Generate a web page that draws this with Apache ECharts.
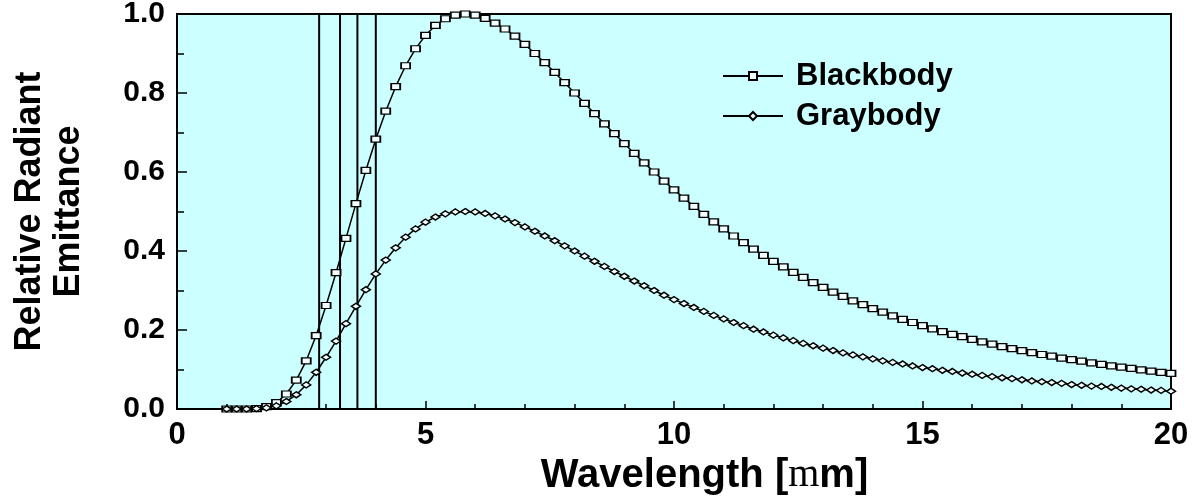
<!DOCTYPE html>
<html>
<head>
<meta charset="utf-8">
<script src="https://cdn.jsdelivr.net/npm/echarts@6/dist/echarts.min.js"></script>
<style>
  html, body { margin: 0; padding: 0; background: #ffffff; }
  #chart { width: 1193px; height: 498px; }
</style>
</head>
<body>
<div id="chart"></div>
<script>
// Wavelength samples (micrometres)
const wavelength = [
  1.0, 1.2, 1.4, 1.6, 1.8, 2.0, 2.2, 2.4, 2.6, 2.8,
  3.0, 3.2, 3.4, 3.6, 3.8, 4.0, 4.2, 4.4, 4.6, 4.8,
  5.0, 5.2, 5.4, 5.6, 5.8, 6.0, 6.2, 6.4, 6.6, 6.8,
  7.0, 7.2, 7.4, 7.6, 7.8, 8.0, 8.2, 8.4, 8.6, 8.8,
  9.0, 9.2, 9.4, 9.6, 9.8, 10.0, 10.2, 10.4, 10.6, 10.8,
  11.0, 11.2, 11.4, 11.6, 11.8, 12.0, 12.2, 12.4, 12.6, 12.8,
  13.0, 13.2, 13.4, 13.6, 13.8, 14.0, 14.2, 14.4, 14.6, 14.8,
  15.0, 15.2, 15.4, 15.6, 15.8, 16.0, 16.2, 16.4, 16.6, 16.8,
  17.0, 17.2, 17.4, 17.6, 17.8, 18.0, 18.2, 18.4, 18.6, 18.8,
  19.0, 19.2, 19.4, 19.6, 19.8, 20.0
];

// Relative radiant emittance of the blackbody
const blackbody = [
  0, 0, 0, 0.001, 0.006, 0.016, 0.038, 0.073, 0.122, 0.186,
  0.262, 0.345, 0.432, 0.52, 0.604, 0.683, 0.754, 0.816, 0.869, 0.912,
  0.946, 0.971, 0.988, 0.997, 1.0, 0.997, 0.989, 0.977, 0.962, 0.944,
  0.923, 0.9, 0.877, 0.852, 0.826, 0.8, 0.774, 0.748, 0.722, 0.697,
  0.672, 0.647, 0.623, 0.6, 0.577, 0.555, 0.534, 0.513, 0.493, 0.474,
  0.456, 0.438, 0.421, 0.405, 0.389, 0.374, 0.36, 0.346, 0.333, 0.32,
  0.308, 0.296, 0.285, 0.274, 0.264, 0.254, 0.245, 0.236, 0.227, 0.219,
  0.211, 0.203, 0.196, 0.189, 0.183, 0.176, 0.17, 0.164, 0.158, 0.153,
  0.148, 0.143, 0.138, 0.134, 0.129, 0.125, 0.121, 0.117, 0.113, 0.109,
  0.106, 0.103, 0.099, 0.096, 0.093, 0.09
];

// Relative radiant emittance of the graybody
const graybody = [
  0, 0, 0, 0.001, 0.003, 0.008, 0.019, 0.036, 0.061, 0.093,
  0.131, 0.172, 0.216, 0.26, 0.302, 0.342, 0.377, 0.408, 0.435, 0.456,
  0.473, 0.486, 0.494, 0.499, 0.5, 0.499, 0.495, 0.489, 0.481, 0.472,
  0.461, 0.45, 0.438, 0.426, 0.413, 0.4, 0.387, 0.374, 0.361, 0.348,
  0.336, 0.324, 0.312, 0.3, 0.288, 0.277, 0.267, 0.257, 0.247, 0.237,
  0.228, 0.219, 0.211, 0.202, 0.195, 0.187, 0.18, 0.173, 0.166, 0.16,
  0.154, 0.148, 0.142, 0.137, 0.132, 0.127, 0.122, 0.118, 0.114, 0.109,
  0.105, 0.102, 0.098, 0.095, 0.091, 0.088, 0.085, 0.082, 0.079, 0.077,
  0.074, 0.071, 0.069, 0.067, 0.065, 0.062, 0.06, 0.058, 0.057, 0.055,
  0.053, 0.051, 0.05, 0.048, 0.047, 0.045
];

// Spectral windows outlined as boxes (wavelength ranges)
const windows = [[2.86, 3.28], [3.63, 4.0]];

const seriesNames = ['Blackbody', 'Graybody'];

const FONT = '"Liberation Sans", Arial, Helvetica, sans-serif';
const SERIF = '"Liberation Serif", "Times New Roman", serif';
const BG = '#ccffff';

const chart = echarts.init(document.getElementById('chart'), null, { renderer: 'canvas' });

const toPairs = (ys) => wavelength.map((w, i) => [w, ys[i]]);

chart.setOption({
  animation: false,
  backgroundColor: '#ffffff',
  grid: {
    left: 177, right: 22, top: 14, bottom: 89,
    outerBoundsMode: 'none',
    show: true,
    backgroundColor: BG,
    borderColor: '#000',
    borderWidth: 2
  },
  legend: {
    orient: 'vertical',
    left: 722,
    top: 60,
    padding: 0,
    itemWidth: 60,
    itemHeight: 10,
    itemGap: 8,
    textStyle: {
      fontFamily: FONT, fontSize: 31, fontWeight: 'bold', color: '#000',
      lineHeight: 32,
      padding: [0, 0, 0, 8]
    },
    data: seriesNames
  },
  xAxis: {
    type: 'value',
    min: 0, max: 20, interval: 5,
    axisLine: { lineStyle: { color: '#000', width: 2 } },
    axisTick: { inside: true, length: 8, lineStyle: { color: '#000', width: 1.5 } },
    minorTick: { show: true, splitNumber: 5, length: 5, lineStyle: { color: '#000', width: 1.5 } },
    splitLine: { show: false },
    axisLabel: { fontFamily: FONT, fontSize: 31, fontWeight: 'bold', color: '#000', margin: 11 },
    name: 'Wavelength [{mu|m}m]',
    nameLocation: 'middle',
    nameGap: 42,
    nameTextStyle: {
      fontFamily: FONT, fontSize: 40, fontWeight: 'bold', color: '#000',
      padding: [0, 0, 0, 61],
      rich: {
        mu: { fontFamily: SERIF, fontSize: 40, fontWeight: 'normal', color: '#000' }
      }
    }
  },
  yAxis: {
    type: 'value',
    min: 0, max: 1, interval: 0.2,
    axisLine: { show: true, lineStyle: { color: '#000', width: 2 } },
    axisTick: { show: true, inside: true, length: 10, lineStyle: { color: '#000', width: 1.5 } },
    minorTick: { show: true, splitNumber: 2, length: 7, lineStyle: { color: '#000', width: 1.5 } },
    splitLine: { show: false },
    axisLabel: {
      fontFamily: FONT, fontSize: 30, fontWeight: 'bold', color: '#000', margin: 12,
      formatter: (v) => v.toFixed(1)
    },
    name: 'Relative Radiant\nEmittance',
    nameLocation: 'middle',
    nameGap: 88,
    nameTextStyle: { fontFamily: FONT, fontSize: 36, fontWeight: 'bold', color: '#000', lineHeight: 39 }
  },
  series: [
    {
      name: seriesNames[0],
      type: 'line',
      data: toPairs(blackbody),
      symbol: 'rect',
      symbolSize: [9, 6],
      lineStyle: { color: '#000', width: 1.5 },
      itemStyle: { color: '#f2ffff', borderColor: '#000', borderWidth: 1.5 },
      z: 3,
      markArea: {
        silent: true,
        itemStyle: { color: 'rgba(0,0,0,0)', borderColor: '#000', borderWidth: 2 },
        data: windows.map(([a, b]) => [{ xAxis: a, yAxis: 0 }, { xAxis: b, yAxis: 1 }])
      }
    },
    {
      name: seriesNames[1],
      type: 'line',
      data: toPairs(graybody),
      symbol: 'diamond',
      symbolSize: [9, 6],
      lineStyle: { color: '#000', width: 1.5 },
      itemStyle: { color: '#f2ffff', borderColor: '#000', borderWidth: 1.5 },
      z: 3
    }
  ]
});
</script>
</body>
</html>
